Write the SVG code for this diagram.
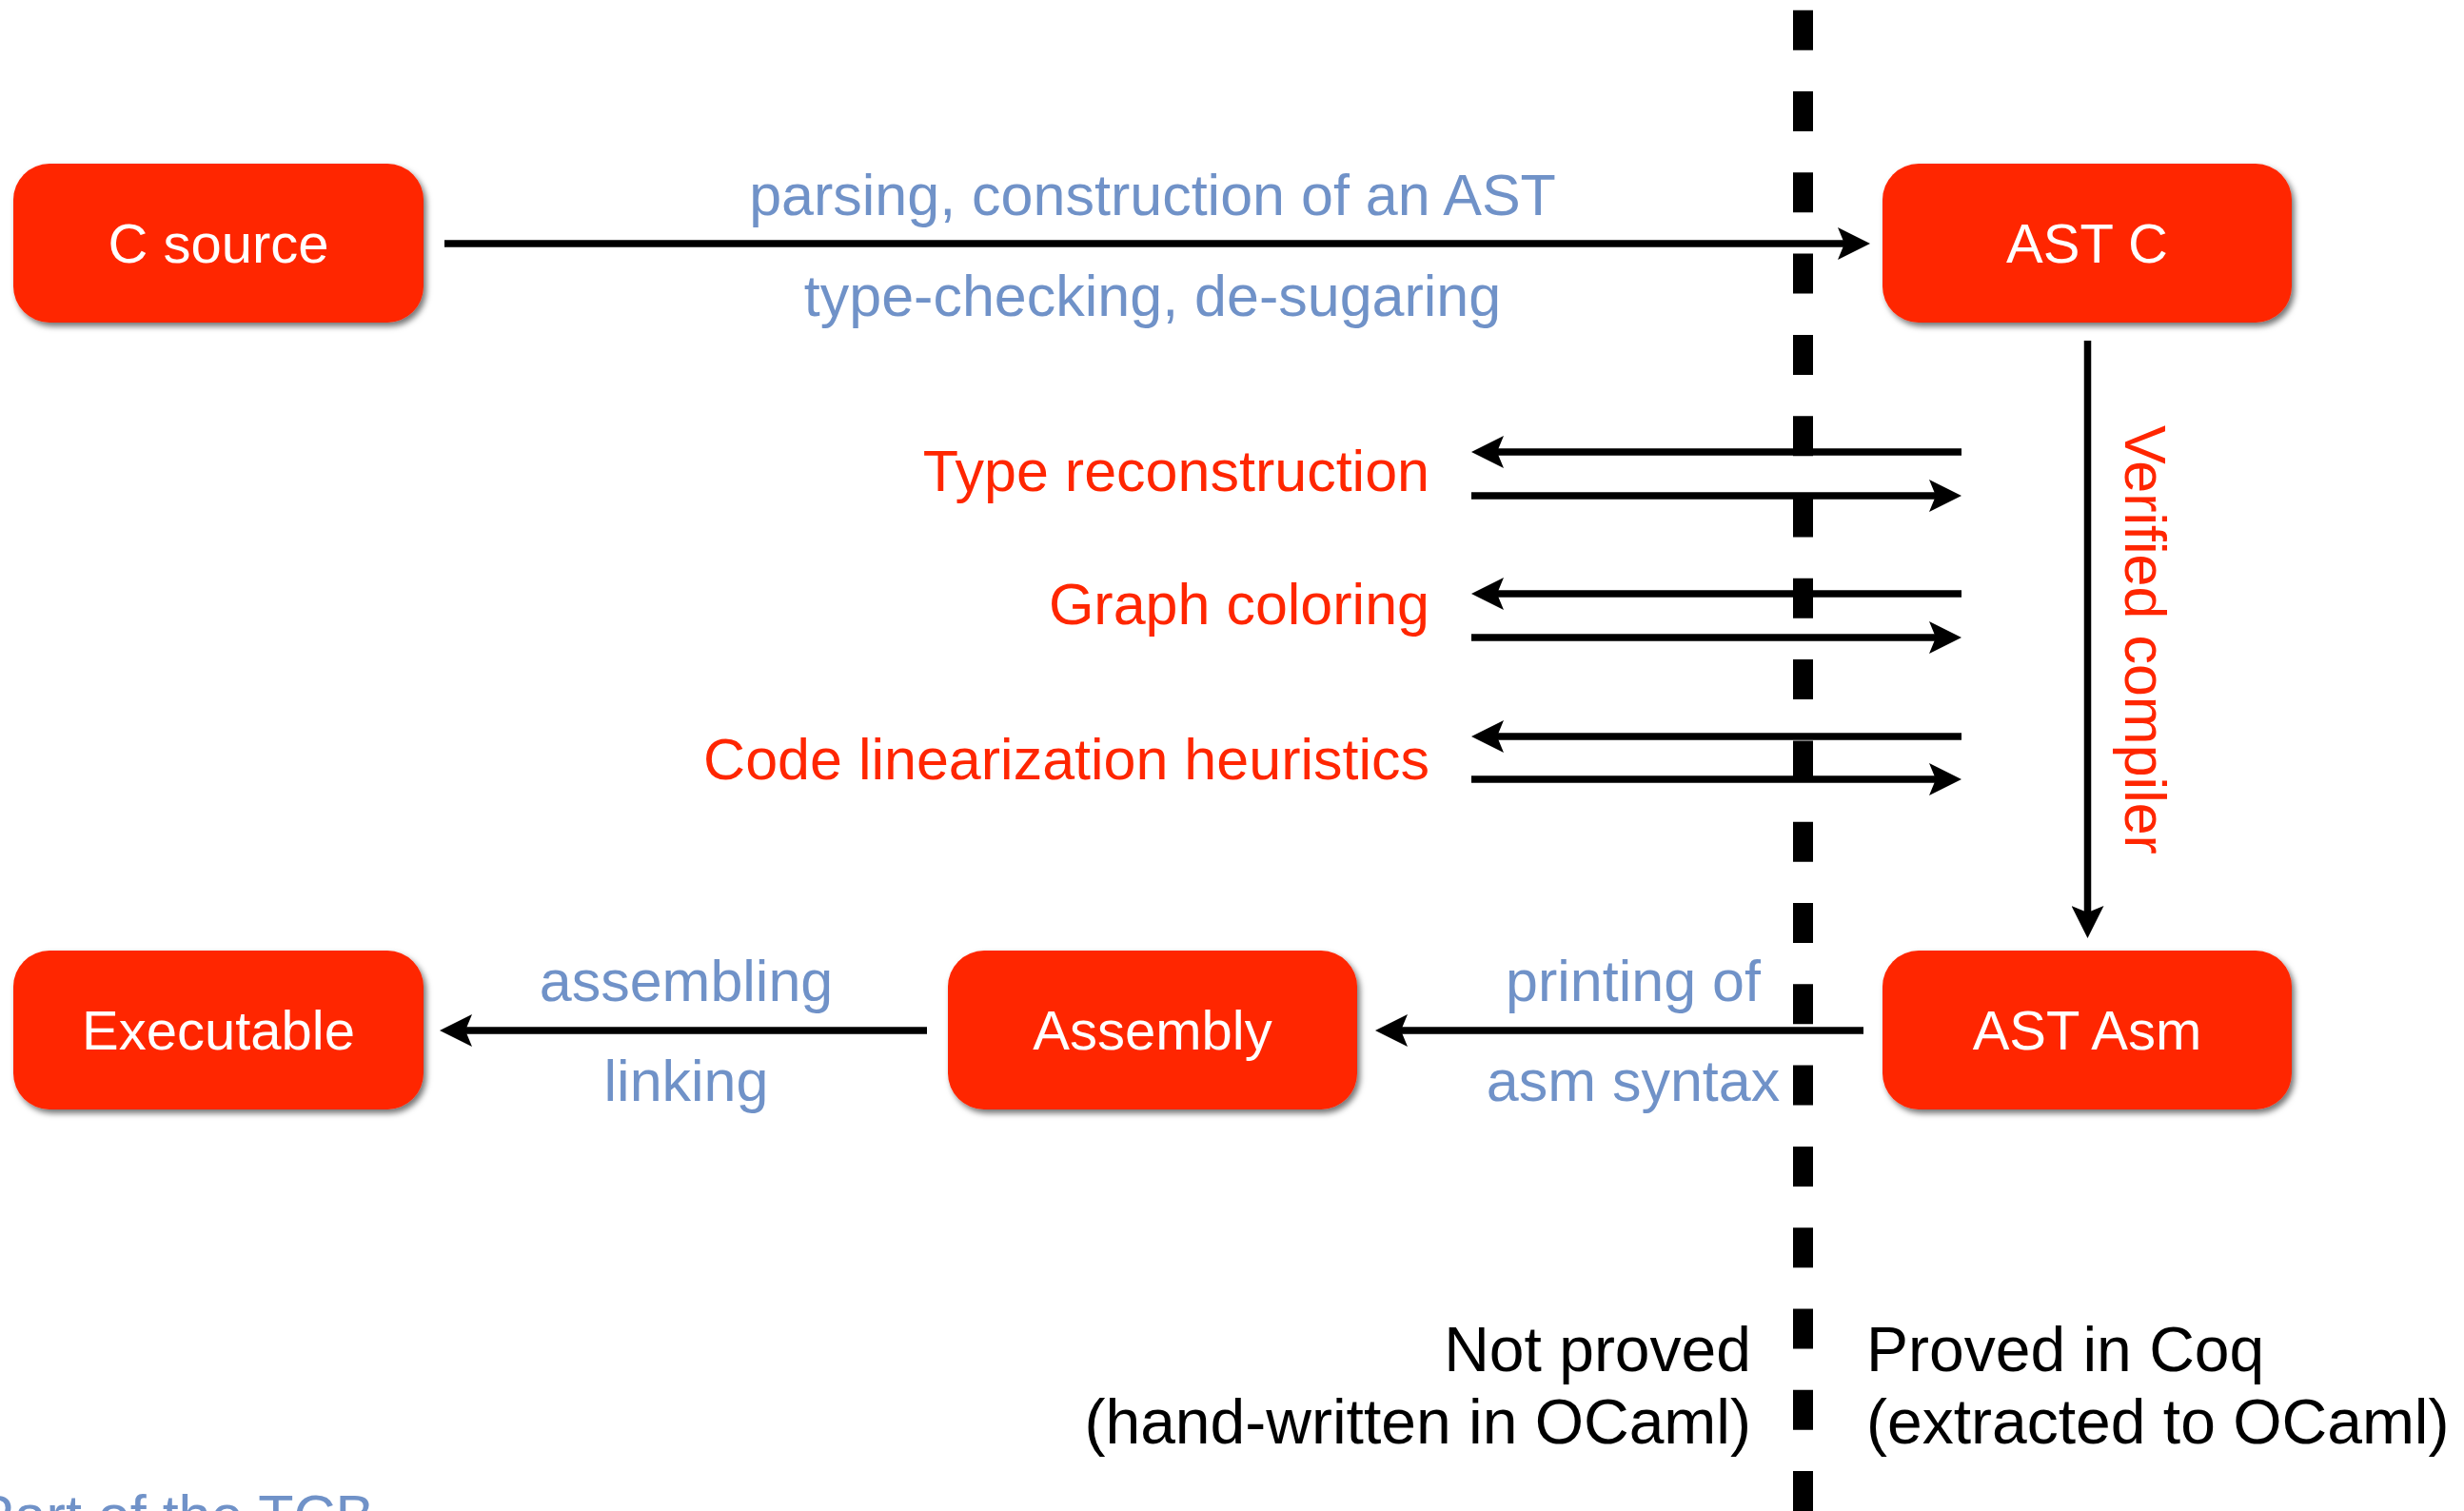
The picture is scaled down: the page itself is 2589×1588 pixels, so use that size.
<svg xmlns="http://www.w3.org/2000/svg" width="2589" height="1588" viewBox="0 0 2589 1588">
  <style>
    text { font-family: "Liberation Sans", Arial, Helvetica, sans-serif; }
    .node rect { fill: #FF2600; }
    .node text { fill: #FFFFFF; font-size: 58px; text-anchor: middle; }
    .blue { fill: #7092C8; font-size: 61px; }
    .red { fill: #FF2600; font-size: 61px; }
    .note { fill: #000000; font-size: 66px; }
    .mid { text-anchor: middle; }
    .end { text-anchor: end; }
    .edge { stroke: #000000; stroke-width: 7.5; fill: none; marker-end: url(#head); }
    .divider { stroke: #000000; stroke-width: 21; stroke-dasharray: 42 43.3; fill: none; }
  </style>
  <defs>
    <filter id="shadow" x="-10%" y="-10%" width="125%" height="130%">
      <feDropShadow dx="3" dy="4" stdDeviation="3" flood-color="#000000" flood-opacity="0.55"/>
    </filter>
    <marker id="head" viewBox="0 0 34 34" refX="7" refY="17" markerWidth="34" markerHeight="34" markerUnits="userSpaceOnUse" orient="auto">
      <path d="M34,17 L0,0 L7,17 L0,34 Z" fill="#000000"/>
    </marker>
  </defs>

  <rect width="2589" height="1588" fill="#FFFFFF"/>

  <!-- boundary between proved and unproved parts -->
  <line class="divider" x1="1894.5" y1="10.7" x2="1894.5" y2="1600"/>

  <!-- connectors -->
  <g id="connectors">
    <line class="edge" x1="467" y1="256" x2="1938" y2="256"/>
    <line class="edge" x1="2061" y1="475" x2="1573" y2="475"/>
    <line class="edge" x1="1546" y1="521" x2="2034" y2="521"/>
    <line class="edge" x1="2061" y1="624" x2="1573" y2="624"/>
    <line class="edge" x1="1546" y1="670" x2="2034" y2="670"/>
    <line class="edge" x1="2061" y1="774" x2="1573" y2="774"/>
    <line class="edge" x1="1546" y1="819" x2="2034" y2="819"/>
    <line class="edge" x1="2193.5" y1="358" x2="2193.5" y2="959"/>
    <line class="edge" x1="1958" y1="1083" x2="1472" y2="1083"/>
    <line class="edge" x1="974" y1="1083" x2="489" y2="1083"/>
  </g>

  <!-- nodes -->
  <g id="c-source" class="node">
    <rect x="14" y="172" width="431" height="167" rx="38" ry="38" filter="url(#shadow)"/>
    <text x="229.5" y="276">C source</text>
  </g>
  <g id="ast-c" class="node">
    <rect x="1978" y="172" width="430" height="167" rx="38" ry="38" filter="url(#shadow)"/>
    <text x="2193" y="276">AST C</text>
  </g>
  <g id="executable" class="node">
    <rect x="14" y="999" width="431" height="167" rx="38" ry="38" filter="url(#shadow)"/>
    <text x="229.5" y="1103">Executable</text>
  </g>
  <g id="assembly" class="node">
    <rect x="996" y="999" width="430" height="167" rx="38" ry="38" filter="url(#shadow)"/>
    <text x="1211" y="1103">Assembly</text>
  </g>
  <g id="ast-asm" class="node">
    <rect x="1978" y="999" width="430" height="167" rx="38" ry="38" filter="url(#shadow)"/>
    <text x="2193" y="1103">AST Asm</text>
  </g>

  <!-- edge labels -->
  <g id="labels">
    <text class="blue mid" x="1211" y="226">parsing, construction of an AST</text>
    <text class="blue mid" x="1211" y="332">type-checking, de-sugaring</text>
    <text class="red end" x="1502" y="516">Type reconstruction</text>
    <text class="red end" x="1502" y="656">Graph coloring</text>
    <text class="red end" x="1502" y="819">Code linearization heuristics</text>
    <text class="red" transform="translate(2233,447) rotate(90)">Verified compiler</text>
    <text class="blue mid" x="721" y="1052">assembling</text>
    <text class="blue mid" x="721" y="1157">linking</text>
    <text class="blue mid" x="1716" y="1052">printing of</text>
    <text class="blue mid" x="1716" y="1157">asm syntax</text>
  </g>

  <!-- side captions -->
  <g id="captions">
    <text class="note end" x="1840" y="1441">Not proved</text>
    <text class="note end" x="1840" y="1517">(hand-written in OCaml)</text>
    <text class="note" x="1961" y="1441">Proved in Coq</text>
    <text class="note" x="1961" y="1517">(extracted to OCaml)</text>
    <text class="blue" x="-26" y="1614">Part of the TCB</text>
  </g>
</svg>
